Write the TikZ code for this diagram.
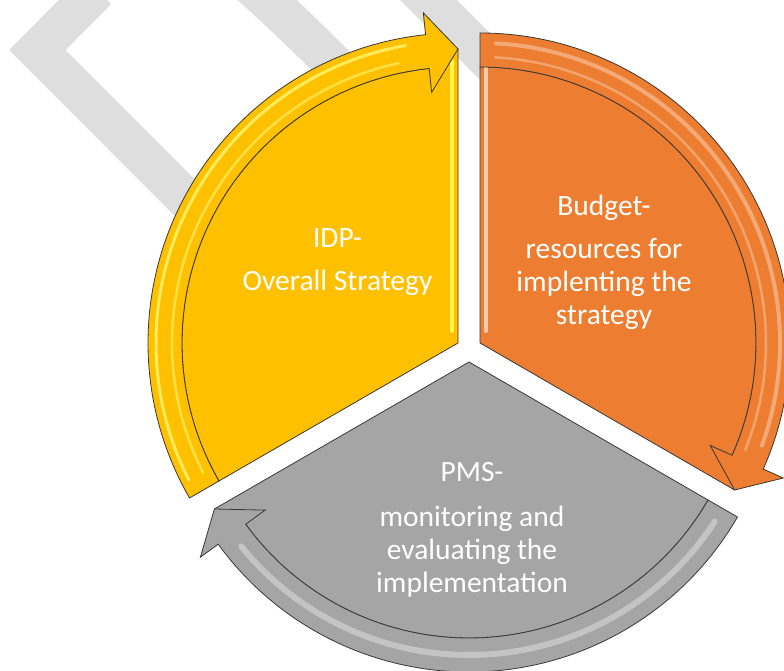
\documentclass[tikz,border=0pt]{standalone}
\usepackage{fontspec}
\setmainfont{Carlito}
\definecolor{idpyellow}{HTML}{FFC000}
\definecolor{budgetorange}{HTML}{ED7D31}
\definecolor{pmsgray}{HTML}{A5A5A5}
\definecolor{edgedark}{HTML}{383838}
\definecolor{markgray}{HTML}{DEDEDE}
\tikzstyle{wedge} = [draw=edgedark, line width=0.8pt, line join=round]
\tikzstyle{ringarrow} = [draw=edgedark, line width=0.8pt, line join=miter]
\tikzstyle{gloss} = [line width=4pt, line cap=round]
\tikzstyle{markline} = [draw=markgray, line width=40pt, line join=miter]
\tikzstyle{segtext} = [text=white, align=center, font=\fontsize{29.5}{33}\selectfont]

\begin{document}
\begin{tikzpicture}[x=1pt, y=1pt]
\useasboundingbox (0,0) rectangle (784,671);
\clip (0,0) rectangle (784,671);

% background mark
\draw [markline] (97,681) -- (37.4,621) -- (300,358);
\draw [markline] (240,696) .. controls (300,641) .. (420,521);
\draw [markline] (388.5,711) -- (900,199.5);

% centres of the three wedges
\coordinate (idp) at (458,328);
\coordinate (budget) at (480,328);
\coordinate (pms) at (469,309);

% IDP wedge
\begin{scope}[shift={(idp)}]
\draw [wedge, fill=idpyellow] (0,0) -- (210:276) arc[start angle=210, end angle=96, radius=276] -- (90:294) -- cycle;
\draw [gloss, draw=yellow!70!white] (-6,12) -- (-6,282);
\draw [ringarrow, fill=idpyellow] (210:276) arc[start angle=210, end angle=96, radius=276] -- (96:252) -- (90:294) -- (96:332) -- (96:310) arc[start angle=96, end angle=210, radius=310] -- cycle;
\draw [gloss, line width=3pt, draw=yellow!55!white, opacity=0.8] (207:302) arc[start angle=207, end angle=100, radius=302];
\draw [gloss, line width=2.5pt, draw=yellow!55!white, opacity=0.6] (207:286) arc[start angle=207, end angle=102, radius=286];
\end{scope}

% Budget wedge
\begin{scope}[shift={(budget)}]
\draw [wedge, fill=budgetorange] (0,0) -- (90:276) arc[start angle=90, end angle=-24, radius=276] -- (-30:294) -- cycle;
\draw [gloss, draw=budgetorange!40!white] (6,12) -- (6,282);
\draw [ringarrow, fill=budgetorange] (90:276) arc[start angle=90, end angle=-24, radius=276] -- (-24:252) -- (-30:294) -- (-24:332) -- (-24:310) arc[start angle=-24, end angle=90, radius=310] -- cycle;
\draw [gloss, draw=white, opacity=0.35] (87:300) arc[start angle=87, end angle=-20, radius=300];
\draw [gloss, line width=2.5pt, draw=white, opacity=0.3] (87:286) arc[start angle=87, end angle=-22, radius=286];
\end{scope}

% PMS wedge
\begin{scope}[shift={(pms)}]
\draw [wedge, fill=pmsgray] (0,0) -- (-30:276) arc[start angle=-30, end angle=-144, radius=276] -- (210:294) -- cycle;
\draw [ringarrow, fill=pmsgray] (-30:276) arc[start angle=-30, end angle=-144, radius=276] -- (-144:252) -- (-150:294) -- (-144:332) -- (-144:310) arc[start angle=-144, end angle=-30, radius=310] -- cycle;
\draw [gloss, line width=6pt, draw=white, opacity=0.35] (-33:293) arc[start angle=-33, end angle=-141, radius=293];
\end{scope}

% texts
\node (idptext) [segtext] at (337.5,409) {IDP-\\[10pt]Overall Strategy};
\node (budgettext) [segtext] at (604,409) {Budget-\\[10pt]resources for\\implenting the\\strategy};
\node (pmstext) [segtext] at (472,141.5) {PMS-\\[12pt]monitoring and\\evaluating the\\implementation};
\end{tikzpicture}
\end{document}
